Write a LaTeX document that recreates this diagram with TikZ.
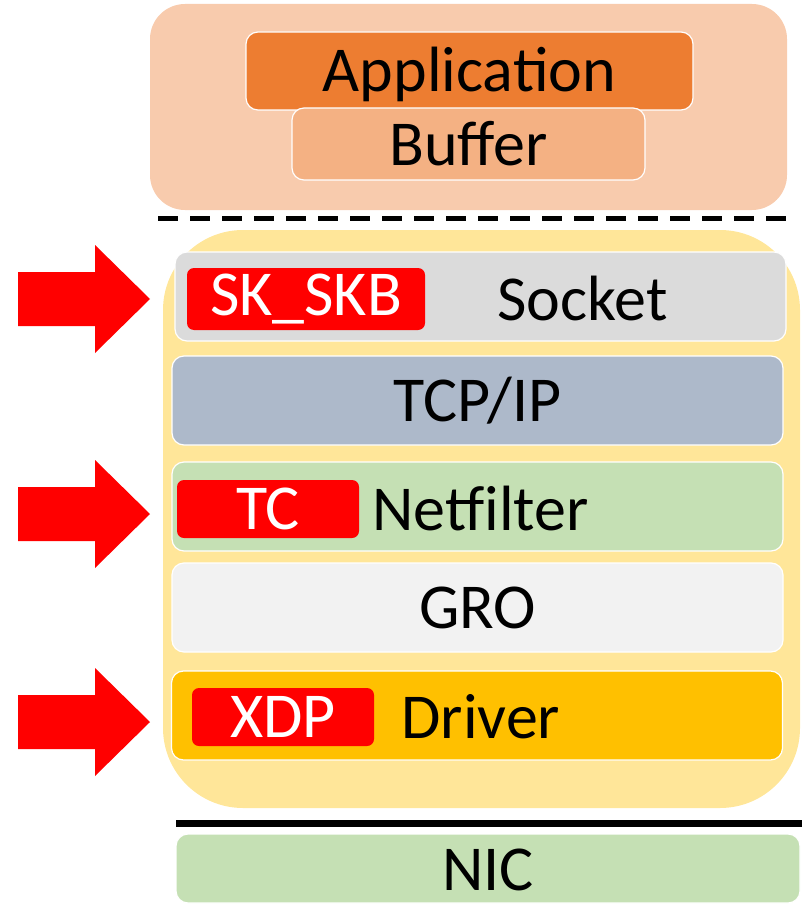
\documentclass[tikz,border=0pt]{standalone}
\usepackage{fontspec}
\setmainfont{Carlito}
\usetikzlibrary{positioning}
\definecolor{userbg}{HTML}{F8CBAD}
\definecolor{appbg}{HTML}{ED7D31}
\definecolor{bufbg}{HTML}{F4B183}
\definecolor{kernbg}{HTML}{FFE699}
\definecolor{sockbg}{HTML}{DBDBDB}
\definecolor{tcpbg}{HTML}{ADB9CA}
\definecolor{netbg}{HTML}{C5E0B4}
\definecolor{grobg}{HTML}{F2F2F2}
\definecolor{drvbg}{HTML}{FFC000}
\definecolor{hookred}{HTML}{FF0000}
% red block arrow, tip at (150,#1)
\newcommand{\hookarrow}[1]{%
  \fill[hookred] (18,#1-27) -- (95,#1-27) -- (95,#1-54) -- (150,#1)
    -- (95,#1+54) -- (95,#1+27) -- (18,#1+27) -- cycle;}

\begin{document}
\begin{tikzpicture}[
  x=1pt, y=-1pt, font=\fontsize{64}{72}\selectfont,
  plane/.style={inner sep=0pt, outer sep=0pt},
  box/.style={draw=white, line width=1.2pt, rounded corners=12pt, inner sep=0pt,
              outer sep=0pt, align=center},
  layer/.style={box, minimum width=611pt, minimum height=89pt},
  hook/.style={fill=hookred, text=white, rounded corners=7pt, inner sep=0pt,
               minimum height=58pt},
  lbl/.style={inner sep=0pt},
  sep/.style={line width=5pt, dash pattern=on 20pt off 12pt}
]
\useasboundingbox (0,0) rectangle (802,904);

% user space
\node[plane, fill=userbg, rounded corners=35pt, minimum width=637pt,
      minimum height=206pt] (user) at (468.5,107) {};
\node[box, fill=appbg, minimum width=447pt, minimum height=78pt] (app) at (469.5,71) {};
\node[box, fill=bufbg, minimum width=353pt, minimum height=72pt] (buf) at (468.5,144) {Buffer};
\node[lbl] (applbl) at (469.5,74) {Application};

\draw[sep] (158,218) -- (797,218);

% kernel
\node[plane, fill=kernbg, rounded corners=80pt, minimum width=637pt,
      minimum height=578pt] (kernel) at (481.5,519) {};
\node[layer, fill=sockbg] (sock) at (480.5,296.5) {};
\node[layer, fill=tcpbg]  (tcp)  at (477.5,400.5) {TCP/IP};
\node[layer, fill=netbg]  (netf) at (477.5,506.5) {};
\node[layer, fill=grobg]  (gro)  at (477.5,607.5) {GRO};
\node[layer, fill=drvbg]  (drv)  at (477,715.5)   {};

\node[hook, minimum width=238pt, minimum height=62pt] (skskb) at (306,299) {SK\_SKB};
\node[hook, minimum width=182pt] (tc)  at (268,509) {TC};
\node[hook, minimum width=182pt] (xdp) at (283,717) {XDP};

\node[lbl, right=72pt of skskb] (socklbl) {Socket};
\node[lbl, right=13pt of tc]    (netlbl)  {Netfilter};
\node[lbl, right=27pt of xdp]   (drvlbl)  {Driver};

\hookarrow{299}
\hookarrow{514}
\hookarrow{722}

% hardware
\draw[line width=7pt] (176,823) -- (802,823);
\node[box, fill=netbg, minimum width=624pt, minimum height=69pt] (nic) at (488,868.5) {};
\node[lbl] (niclbl) at (488,870) {NIC};
\end{tikzpicture}
\end{document}
